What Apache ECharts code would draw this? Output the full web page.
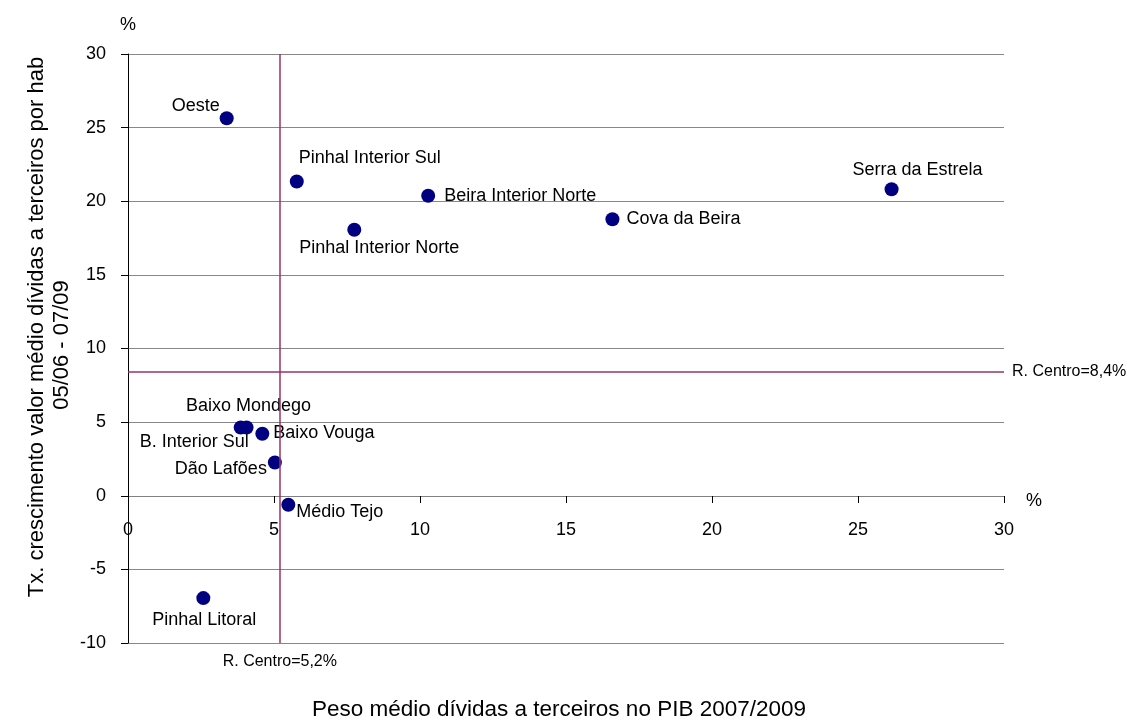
<!DOCTYPE html>
<html>
<head>
<meta charset="utf-8">
<script src="https://cdn.jsdelivr.net/npm/echarts@6/dist/echarts.min.js"></script>
<style>
html,body{margin:0;padding:0;background:#fff;}
#chart{width:1130px;height:722px;}
</style>
</head>
<body>
<div id="chart"></div>
<script>
// ---- data ----
var regions = ['Oeste','Pinhal Interior Sul','Beira Interior Norte','Cova da Beira','Pinhal Interior Norte','Serra da Estrela','Baixo Mondego','B. Interior Sul','Baixo Vouga','Dão Lafões','Médio Tejo','Pinhal Litoral'];
var pesoDividasPIB = [3.38, 5.78, 10.28, 16.59, 7.75, 26.15, 4.06, 3.86, 4.60, 5.03, 5.49, 2.58];
var txCrescimento = [25.64, 21.34, 20.37, 18.78, 18.06, 20.82, 4.64, 4.64, 4.21, 2.26, -0.61, -6.95];
var refCentroX = 5.2;
var refCentroY = 8.4;
var refLabelX = 'R. Centro=5,2%';
var refLabelY = 'R. Centro=8,4%';
var xTitle = 'Peso médio dívidas a terceiros no PIB 2007/2009';
var yTitle1 = 'Tx. crescimento valor médio dívidas a terceiros por hab';
var yTitle2 = '05/06 - 07/09';

// ---- label placement (style only) ----
var labelPlace = {
  'Oeste': {position:'left', offset:[5,-12]},
  'Pinhal Interior Sul': {position:'top', offset:[73,-2]},
  'Beira Interior Norte': {position:'right', offset:[4,0]},
  'Cova da Beira': {position:'right', offset:[2,0]},
  'Pinhal Interior Norte': {position:'bottom', offset:[25,-3]},
  'Serra da Estrela': {position:'top', offset:[26,2]},
  'Baixo Mondego': {position:'top', offset:[2,0]},
  'B. Interior Sul': {position:'left', offset:[20,15]},
  'Baixo Vouga': {position:'right', offset:[-1,-1]},
  'Dão Lafões': {position:'left', offset:[4,7]},
  'Médio Tejo': {position:'right', offset:[-4,7]},
  'Pinhal Litoral': {position:'bottom', offset:[1,1]}
};

var FONT = '"Liberation Sans", Arial, sans-serif';

var points = regions.map(function(n, i){
  var lp = labelPlace[n];
  return {
    name: n,
    value: [pesoDividasPIB[i], txCrescimento[i]],
    label: {show:true, formatter:n, position: lp.position, offset: lp.offset, color:'#000', fontFamily:FONT, fontSize:18}
  };
});

var chart = echarts.init(document.getElementById('chart'));
chart.setOption({
  animation: false,
  backgroundColor: '#fff',
  grid: [
    {left:128, right:126, top:54, bottom:79, containLabel:false},
    {left:128, right:126, top:54, bottom:226, containLabel:false}
  ],
  xAxis: [{
    gridIndex:0, type:'value', min:0, max:30, interval:5,
    axisLine:{show:false}, axisTick:{show:false}, axisLabel:{show:false},
    splitLine:{show:false}
  }, {
    gridIndex:1, type:'value', min:0, max:30, interval:5, position:'bottom',
    name:'%', nameLocation:'end', nameGap:22,
    nameTextStyle:{fontFamily:FONT, fontSize:18, color:'#000', verticalAlign:'top', padding:[-4,0,0,0]},
    axisLine:{show:true, onZero:false, lineStyle:{color:'#808080', width:1}},
    axisTick:{show:true, inside:false, length:7, lineStyle:{color:'#000'}},
    axisLabel:{fontFamily:FONT, fontSize:18, color:'#000', margin:25},
    splitLine:{show:false}
  }],
  yAxis: [{
    gridIndex:0, type:'value', min:-10, max:30, interval:5,
    name:'%', nameLocation:'end', nameGap:20,
    nameTextStyle:{fontFamily:FONT, fontSize:18, color:'#000', align:'center'},
    axisLine:{show:true, onZero:false, lineStyle:{color:'#000', width:1}},
    axisTick:{show:true, inside:false, length:7, lineStyle:{color:'#000'}},
    axisLabel:{fontFamily:FONT, fontSize:18, color:'#000', margin:22},
    splitLine:{show:true, lineStyle:{color:'#888', width:1}}
  }, {
    gridIndex:1, type:'value', min:0, max:1, show:false
  }],
  graphic: [
    {type:'text', x:37, y:327, rotation:Math.PI/2,
     style:{text:yTitle1, fontFamily:FONT, fontSize:22, fill:'#000', align:'center', verticalAlign:'middle'}},
    {type:'text', x:62, y:345, rotation:Math.PI/2,
     style:{text:yTitle2, fontFamily:FONT, fontSize:22, fill:'#000', align:'center', verticalAlign:'middle'}},
    {type:'text', x:559, y:710,
     style:{text:xTitle, fontFamily:FONT, fontSize:22.5, fill:'#000', align:'center', verticalAlign:'middle'}}
  ],
  series: [{
    type:'scatter',
    xAxisIndex:0, yAxisIndex:0,
    symbol:'circle',
    symbolSize:14,
    itemStyle:{color:'#000080', opacity:1},
    label:{fontFamily:FONT, fontSize:18, color:'#000'},
    emphasis:{disabled:true},
    data: points,
    markLine: {
      silent:true,
      symbol:['none','none'],
      lineStyle:{color:'#993366', width:1.5, type:'solid'},
      label:{fontFamily:FONT, fontSize:16, color:'#000'},
      data: [
        {xAxis: refCentroX, label:{position:'start', formatter: refLabelX, distance:11}},
        {yAxis: refCentroY, label:{position:'end', formatter: refLabelY, distance:8}}
      ]
    }
  }]
});
</script>
</body>
</html>
